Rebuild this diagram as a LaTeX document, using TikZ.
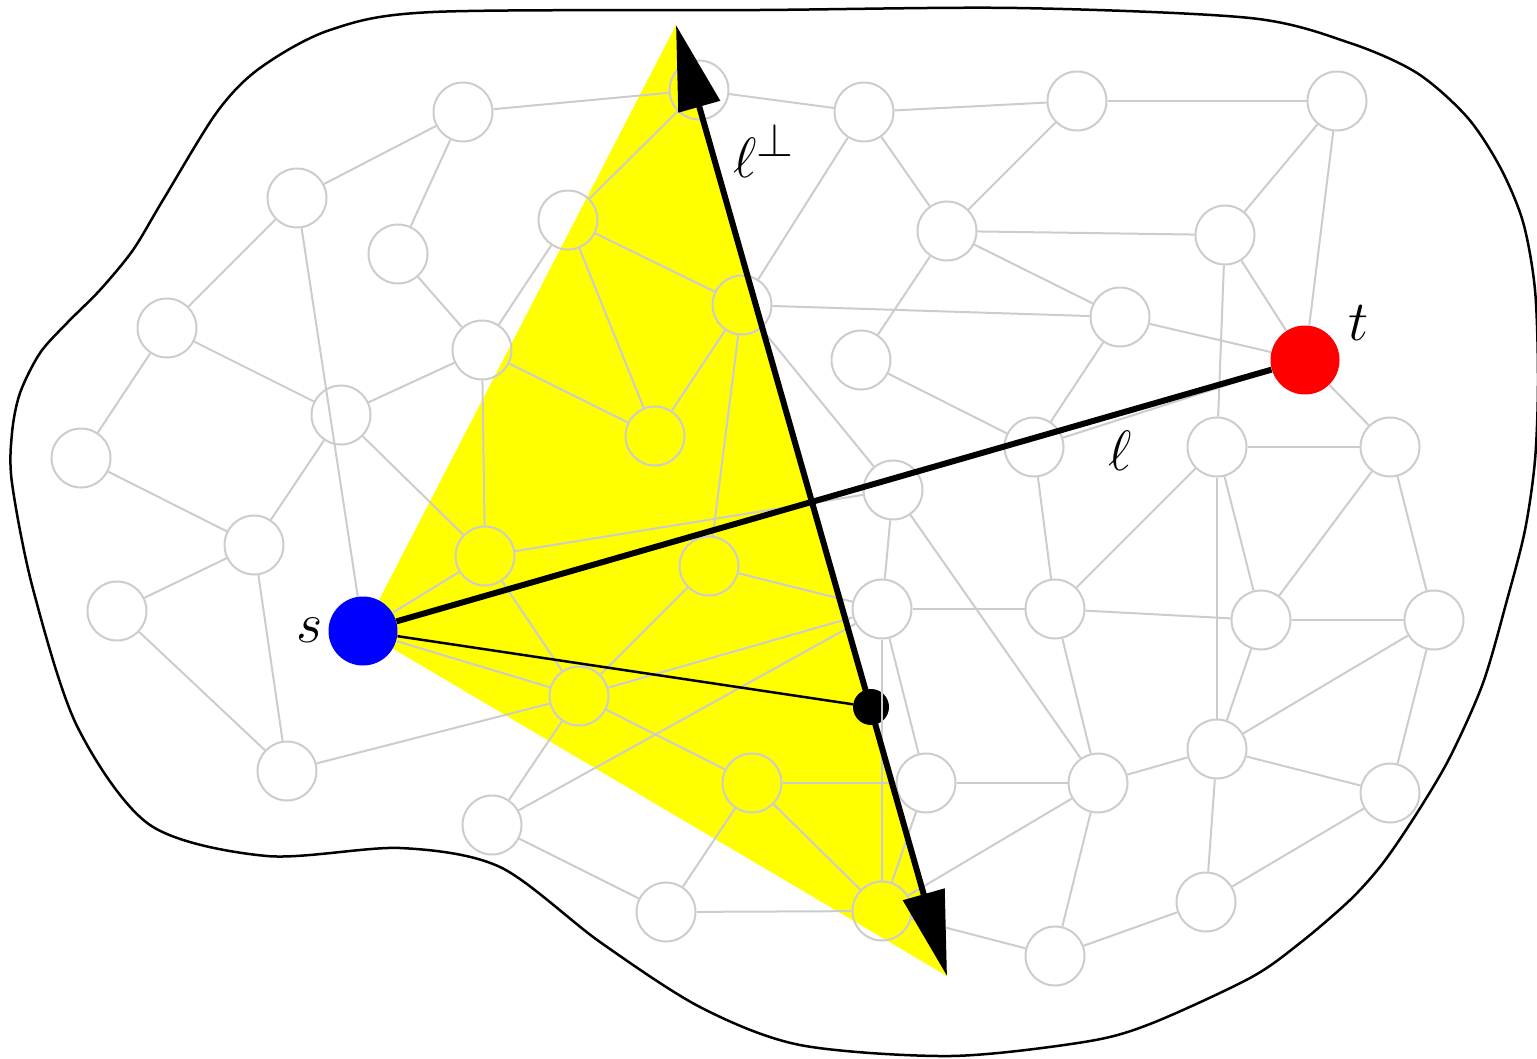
\documentclass[tikz,border=0pt]{standalone}
\usetikzlibrary{arrows.meta}
\definecolor{pureyellow}{RGB}{255,255,0}
\definecolor{pureblue}{RGB}{0,0,255}
\definecolor{purered}{RGB}{255,0,0}
\definecolor{lightgr}{RGB}{204,204,204}
\begin{document}
\begin{tikzpicture}[x=0.02cm,y=-0.02cm,
  gnode/.style={circle,draw=lightgr,line width=0.04cm,minimum size=1.18cm,inner sep=0pt},
  gedge/.style={draw=lightgr,line width=0.04cm},
  bigdot/.style={circle,inner sep=0pt,minimum size=1.38cm},
  axisline/.style={line width=0.12cm,{Triangle[length=1.7cm,width=0.84cm]}-{Triangle[length=1.7cm,width=0.84cm]}},
  lbl/.style={font=\Huge,scale=1.3,inner sep=0pt,anchor=base west}]
\useasboundingbox (0,0) rectangle (1537,1058);
% outline
\draw[line width=0.05cm] plot[smooth cycle, tension=0.5] coordinates {
 (12,483) (12,433) (20,393) (40,353) (67,323) (100,290) (133,250) (163,200)
 (217,112) (260,68) (330,30) (433,12) (760,10) (1017,8) (1250,18) (1350,43)
 (1417,73) (1467,117) (1500,167) (1523,222) (1535,290) (1538,380) (1535,460)
 (1525,530) (1507,600) (1483,683) (1450,757) (1417,813) (1383,863) (1350,900)
 (1300,943) (1250,978) (1150,1024) (1084,1042) (950,1056) (800,1045) (700,1007)
 (600,942) (500,867) (400,848) (267,856) (150,825) (77,726) (33,589)};
% yellow region
\coordinate (sc) at (363,631);
\coordinate (tipU) at (676,25);
\coordinate (tipD) at (947,976);
\fill[pureyellow] (sc) -- (tipU) -- (tipD) -- cycle;
% gray nodes
\node[gnode] (A) at (463,112) {};
\node[gnode] (B) at (297,198) {};
\node[gnode] (C) at (398,254) {};
\node[gnode] (D) at (167,328) {};
\node[gnode] (E) at (81,458) {};
\node[gnode] (F) at (341,415) {};
\node[gnode] (G) at (482,350) {};
\node[gnode] (H) at (568,220) {};
\node[gnode] (I) at (699,90) {};
\node[gnode] (J) at (742,305) {};
\node[gnode] (K) at (655,436) {};
\node[gnode] (L) at (864,112) {};
\node[gnode] (M) at (947,231) {};
\node[gnode] (N) at (861,360) {};
\node[gnode] (O) at (893,490) {};
\node[gnode] (P) at (1077,101) {};
\node[gnode] (Q) at (1337,101) {};
\node[gnode] (R) at (1225,235) {};
\node[gnode] (S) at (1120,317) {};
\node[gnode] (T) at (1034,447) {};
\node[gnode] (U) at (1217,447) {};
\node[gnode] (V) at (1390,447) {};
\node[gnode] (W) at (254,545) {};
\node[gnode] (X) at (117,611) {};
\node[gnode] (Y) at (287,771) {};
\node[gnode] (Y1) at (485,556) {};
\node[gnode] (Y2) at (709,566) {};
\node[gnode] (Y3) at (579,696) {};
\node[gnode] (Y4) at (752,783) {};
\node[gnode] (Y5) at (492,825) {};
\node[gnode] (Y6) at (666,912) {};
\node[gnode] (Y7) at (882,911) {};
\node[gnode] (Z1) at (882,609) {};
\node[gnode] (Z2) at (926,783) {};
\node[gnode] (R1) at (1055,609) {};
\node[gnode] (R2) at (1261,620) {};
\node[gnode] (R3) at (1434,620) {};
\node[gnode] (R4) at (1217,749) {};
\node[gnode] (R5) at (1098,783) {};
\node[gnode] (R6) at (1390,793) {};
\node[gnode] (R7) at (1206,902) {};
\node[gnode] (R8) at (1055,956) {};
% special nodes
\node[bigdot,fill=pureblue] (s) at (sc) {};
\node[bigdot,fill=purered] (t) at (1305,360) {};
\node[circle,fill=black,inner sep=0pt,minimum size=0.72cm] (dot) at (871,707) {};
% gray edges
\foreach \a/\b in {A/I,B/A,C/A,D/B,D/F,E/D,B/s,C/G,F/G,F/W,F/Y1,E/W,G/H,G/Y1,G/K,
  H/I,H/J,H/K,J/K,J/Y2,I/L,L/J,L/M,L/P,M/N,M/P,M/R,M/S,J/S,J/O,N/T,Y1/O,O/Z1,O/R5,
  P/Q,Q/R,Q/t,R/t,R/U,S/t,S/T,t/T,t/V,U/V,T/R1,U/R1,U/R4,U/R2,V/R2,V/R3,
  R1/R2,R2/R3,R2/R4,R3/R4,R3/R6,R4/R6,R4/R5,R4/R7,R6/R7,R7/R8,R5/R8,Z2/R5,R1/R5,R5/Y7,Y7/R8,
  Y2/Z1,Y2/Y3,Y3/Z1,Y3/Y4,Y3/Y5,Y1/Y3,s/Y3,s/Y1,Y4/Z2,Y4/Y6,Y4/Y7,Y5/Z1,Z1/Y7,Y5/Y6,Y6/Y7,
  Z1/Z2,Z1/R1,Z2/Y7,Y/Y3,W/Y,X/W,X/Y}
  \draw[gedge] (\a) -- (\b);
% black lines
\draw[line width=0.05cm] (s) -- (dot);
\draw[line width=0.12cm] (s) -- (t);
\draw[axisline] (tipU) -- (tipD);
% labels
\node[lbl] (lperp) at (733,177) {$\ell^{\perp}$};
\node[lbl] (lell) at (1108,470) {$\ell$};
\node[lbl] (lt) at (1348,340) {$t$};
\node[lbl] (ls) at (296,642) {$s$};
\end{tikzpicture}
\end{document}
